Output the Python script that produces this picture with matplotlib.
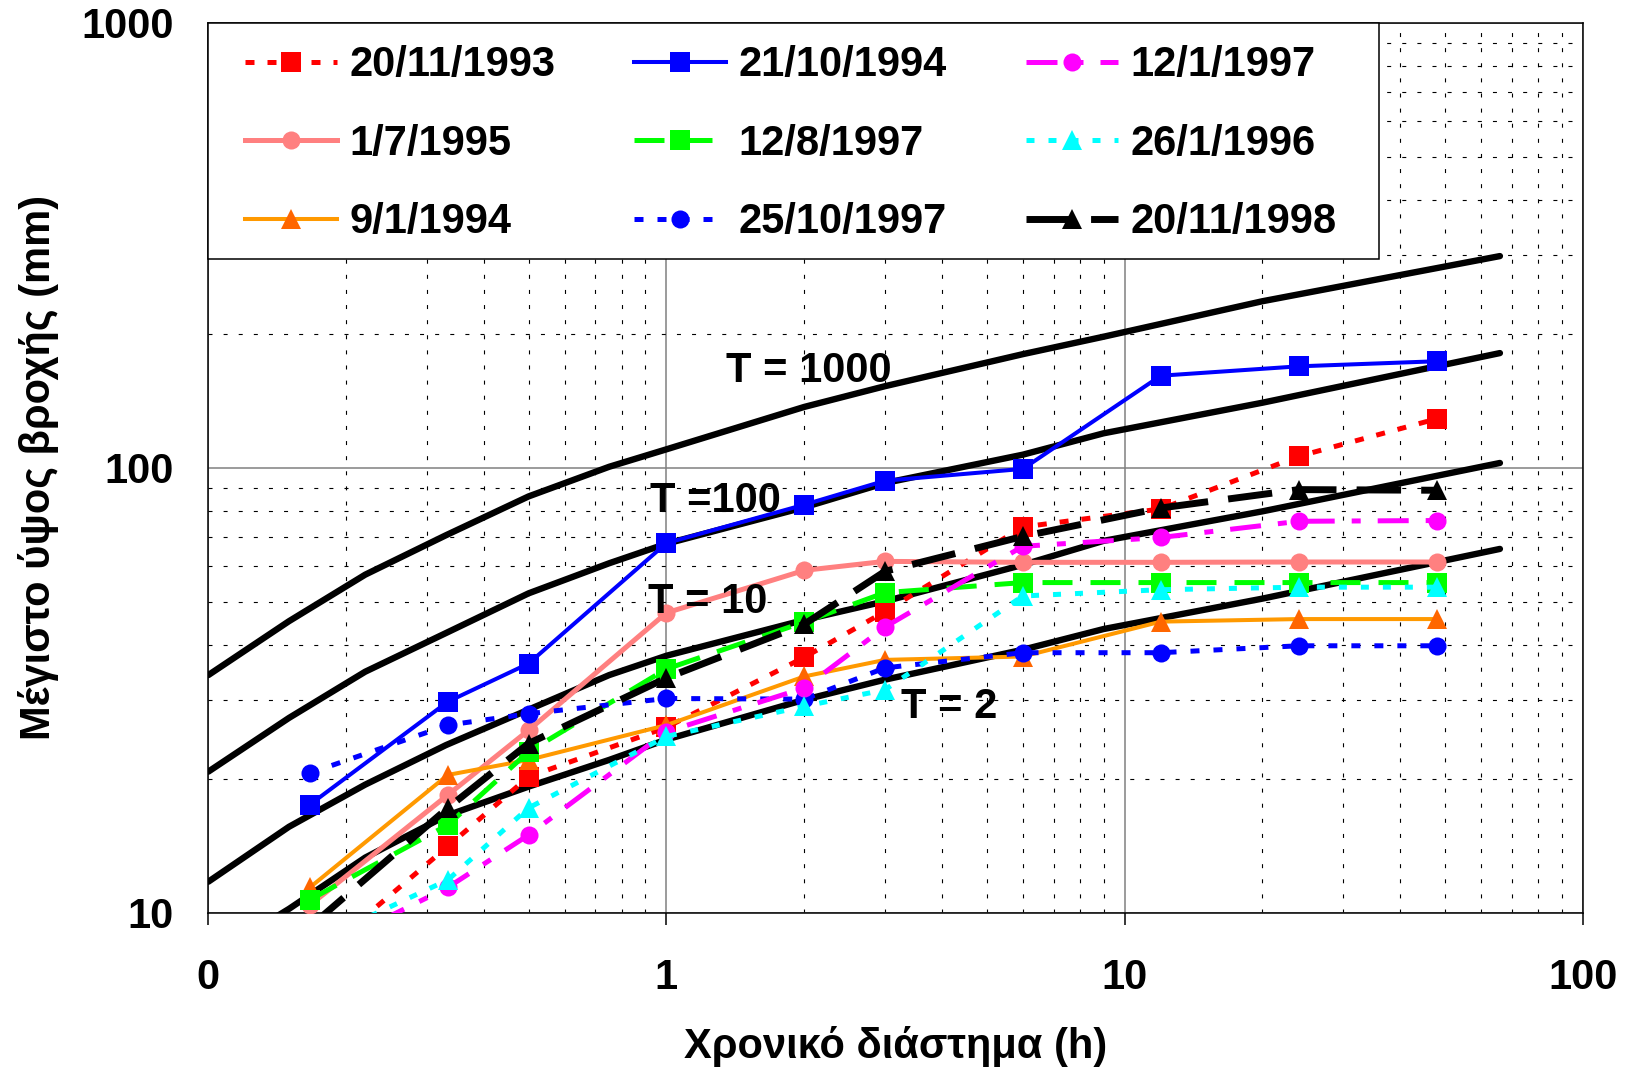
import numpy as np
import matplotlib
matplotlib.use('Agg')
import matplotlib.pyplot as plt
from matplotlib.ticker import FixedLocator, LogLocator, NullFormatter
from matplotlib.patches import Rectangle

# Arial-like bold for every text (Greek included in Liberation Sans)
plt.rcParams['font.family'] = ['Liberation Sans', 'DejaVu Sans']
plt.rcParams['font.weight'] = 'bold'
plt.rcParams['font.size'] = 30

# ---- data ----
# durations of the recorded events (h)
durations = [1/6, 1/3, 0.5, 1, 2, 3, 6, 12, 24, 48]

ev_20_11_1993 = [7.7, 14.1, 20.2, 26.1, 37.5, 47.5, 73.6, 80.8, 106.1, 128.8]
ev_21_10_1994 = [17.5, 29.8, 36.3, 67.7, 82.6, 93.5, 99.4, 161, 169, 173.5]
ev_12_1_1997 = [8.0, 11.4, 14.95, 25.5, 32.0, 43.85, 66.6, 69.7, 75.8, 76.1]
ev_1_7_1995 = [10.4, 18.4, 25.7, 47.2, 58.8, 61.6, 61.3, 61.3, 61.4, 61.4]
ev_12_8_1997 = [10.7, 15.75, 23.0, 35.3, 45.0, 52.4, 55.2, 55.2, 55.2, 55.2]
ev_26_1_1996 = [8.5, 11.85, 17.2, 24.9, 29.1, 31.7, 51.5, 53.2, 53.9, 53.9]
ev_9_1_1994 = [11.4, 20.4, 22.05, 26.4, 33.96, 37.0, 37.65, 45.1, 45.7, 45.7]
ev_25_10_1997 = [20.6, 26.4, 28.0, 30.3, 30.2, 35.5, 38.4, 38.4, 39.8, 39.8]
ev_20_11_1998 = [9.3, 17.2, 24.0, 33.7, 44.5, 58.5, 70.1, 81.2, 89.3, 89.0]

# return period curves
t_durations = [0.1, 0.15, 0.22, 0.33, 0.5, 0.75, 1, 2, 3, 6, 9, 20, 66]
t_2 = [7.9, 10.2, 13.3, 16.5, 19.2, 22.05, 24.5, 30.1, 33.4, 39.0, 43.4, 50.8, 65.7]
t_10 = [11.74, 15.6, 19.4, 23.8, 28.6, 34.2, 37.8, 45.5, 50.1, 60.5, 68.5, 79.8, 102.5]
t_100 = [20.75, 27.4, 34.8, 42.5, 52.2, 61.0, 67.5, 81.5, 92.4, 107, 119.5, 140, 181]
t_1000 = [34.2, 45.2, 57.5, 70.5, 86.2, 100.5, 110, 137, 152.5, 180, 197, 236.7, 299]

t_labels = ['T = 2', 'T = 10', 'T =100', 'T = 1000']
t_label_x = [4.14, 1.23, 1.28, 2.05]
t_label_y = [29.0, 49.8, 84.3, 164.8]

x_ticks = [0.1, 1, 10, 100]
x_tick_labels = ['0', '1', '10', '100']
y_ticks = [10, 100, 1000]
y_tick_labels = ['10', '100', '1000']

# ---- styles: label, values, line colour, marker, marker colour, lw, linestyle ----
series = [
    ('20/11/1993', ev_20_11_1993, '#FF0000', 's', '#FF0000', 3.6, (0, (1.8, 2.6))),
    ('1/7/1995', ev_1_7_1995, '#FF8080', 'o', '#FF8080', 3.6, '-'),
    ('9/1/1994', ev_9_1_1994, '#FF9900', '^', '#FF6600', 2.9, '-'),
    ('21/10/1994', ev_21_10_1994, '#0000FF', 's', '#0000FF', 2.9, '-'),
    ('12/8/1997', ev_12_8_1997, '#00FF00', 's', '#00FF00', 3.6, (0, (6, 3.6))),
    ('25/10/1997', ev_25_10_1997, '#0000FF', 'o', '#0000FF', 3.6, (0, (1.8, 2.8))),
    ('12/1/1997', ev_12_1_1997, '#FF00FF', 'o', '#FF00FF', 3.6, (0, (6.2, 3.4, 1.8, 3.4))),
    ('26/1/1996', ev_26_1_1996, '#00FFFF', '^', '#00FFFF', 3.6, (0, (1.6, 2.8))),
    ('20/11/1998', ev_20_11_1998, '#000000', '^', '#000000', 5.0, (0, (6.4, 2.9))),
]
marker_sizes = {'s': 14, 'o': 13, '^': 15}

fig = plt.figure(figsize=(16.25, 10.69), dpi=100)
ax = fig.add_axes([0.1282, 0.1462, 0.8457, 0.8325])

# T curves first, events on top
for vals in [t_2, t_10, t_100, t_1000]:
    ax.plot(t_durations, vals, color='black', lw=4.6, solid_capstyle='round',
            solid_joinstyle='round', zorder=3)

handles = []
for label, vals, col, mk, mcol, lw, ls in series:
    h, = ax.plot(durations, vals, color=col, lw=lw, ls=ls, marker=mk,
                 markersize=marker_sizes[mk], markerfacecolor=mcol,
                 markeredgewidth=0, label=label, zorder=4)
    handles.append(h)

for txt, tx, ty in zip(t_labels, t_label_x, t_label_y):
    ax.text(tx, ty, txt, ha='center', va='center', fontsize=30, fontweight='bold', zorder=5)

ax.set_xscale('log')
ax.set_yscale('log')
ax.set_xlim(0.1, 100)
ax.set_ylim(10, 1000)

ax.xaxis.set_major_locator(FixedLocator(x_ticks))
ax.set_xticklabels(x_tick_labels)
ax.yaxis.set_major_locator(FixedLocator(y_ticks))
ax.set_yticklabels(y_tick_labels)
for axis in (ax.xaxis, ax.yaxis):
    axis.set_minor_locator(LogLocator(base=10, subs=np.arange(2, 10)))
    axis.set_minor_formatter(NullFormatter())

ax.tick_params(axis='x', which='major', length=8.6, width=1.1, pad=24, direction='out')
ax.tick_params(axis='y', which='major', length=0, pad=25)
ax.tick_params(which='minor', length=0)
ax.tick_params(labelsize=30)

ax.set_axisbelow(True)
ax.grid(which='major', color='#808080', lw=1.1, ls='-')
ax.grid(which='minor', color='black', lw=0.8, ls=(0, (3.6, 10)))
for sp in ax.spines.values():
    sp.set_color('black')
    sp.set_linewidth(1.1)

ax.set_xlabel('Χρονικό διάστημα (h)', fontsize=30, fontweight='bold', labelpad=20)
ax.set_ylabel('Μέγιστο ύψος βροχής (mm)', fontsize=30, fontweight='bold', labelpad=16)

# legend box drawn by hand, legend itself without frame
ax.add_patch(Rectangle((0, 0.7345), 0.8515, 0.2655, transform=ax.transAxes,
                       facecolor='white', edgecolor='black', lw=1.1, zorder=10, clip_on=False))
leg = ax.legend(handles=handles, ncol=3, loc='center left', bbox_to_anchor=(0.0267, 0.864),
                frameon=False, borderpad=0, borderaxespad=0, handlelength=2.2,
                handletextpad=0.3, columnspacing=1.9, labelspacing=0.92,
                prop={'size': 30, 'weight': 'bold'})
leg.set_zorder(11)

fig.savefig('out.png', dpi=100, facecolor='white')
